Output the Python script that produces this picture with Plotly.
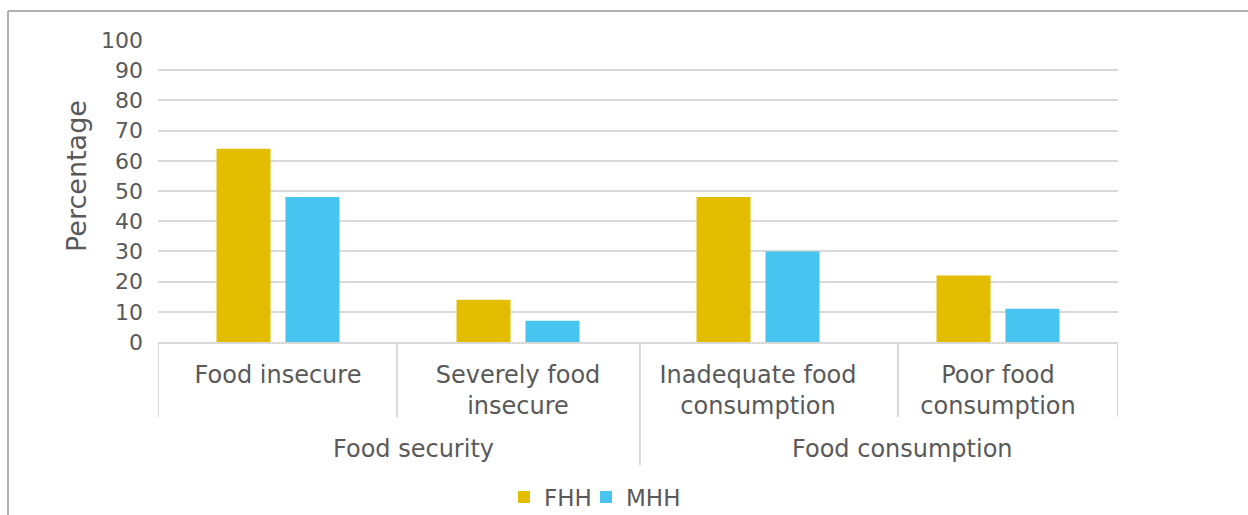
import plotly.graph_objects as go

categories = ["Food insecure", "Severely food<br>insecure", "Inadequate food<br>consumption", "Poor food<br>consumption"]
groups = ["Food security", "Food consumption"]
fhh = [64, 14, 48, 22]
mhh = [48, 7, 30, 11]
series_names = ["FHH", "MHH"]
colors = ["#E3BE00", "#47C4EF"]

FONT = "DejaVu Sans"
GREY = "#595959"
LINE = "#D9D9D9"

W, H = 1248, 515
L, R, T, B = 158, 130, 40, 173
PH = H - T - B

def py(pix):
    """pixel y (from top) -> paper y"""
    return (H - B - pix) / PH

def px(pix):
    return (pix - L) / (W - L - R)

legend_ids = ["legend", "legend2"]
legend_left = [504, 586]

fig = go.Figure()
for name, vals, col, lg in zip(series_names, [fhh, mhh], colors, legend_ids):
    fig.add_trace(go.Bar(x=categories, y=vals, name=name, legend=lg,
                         marker=dict(color=col, line=dict(width=0))))

legend_style = dict(orientation="h", xref="container", xanchor="left",
                    yref="container", y=1 - 497 / H, yanchor="middle",
                    font=dict(size=23, color=GREY), itemwidth=30,
                    bgcolor="rgba(0,0,0,0)")

fig.update_layout(
    width=W, height=H,
    margin=dict(l=L, r=R, t=T, b=B, autoexpand=False),
    paper_bgcolor="white", plot_bgcolor="white",
    barmode="group", bargap=0.425, bargroupgap=0.217,
    font=dict(family=FONT, size=22, color=GREY),
    showlegend=True,
    legend=dict(x=legend_left[0] / W, **legend_style),
    legend2=dict(x=legend_left[1] / W, **legend_style),
)
fig.update_yaxes(range=[0, 100], dtick=10, showgrid=True, gridcolor=LINE,
                 gridwidth=2, zeroline=False, showline=False, automargin=False,
                 tickfont=dict(size=22, color=GREY), ticks="", ticklabelstandoff=14)
fig.update_xaxes(showline=True, linecolor=LINE, linewidth=2, automargin=False,
                 range=[-0.5, 3.5],
                 tickfont=dict(size=24, color=GREY), ticks="", ticklabelstandoff=10)

# y-axis title
fig.add_annotation(text="Percentage", xref="paper", yref="paper",
                   x=px(76), y=py(176), textangle=-90, showarrow=False,
                   font=dict(size=27, color=GREY), xanchor="center", yanchor="middle")

# category dividers (inner level short, group boundary long)
divider_x = [-0.5, 0.496, 1.508, 2.583, 3.5]
for i, xv in enumerate(divider_x):
    y_end = py(465) if i == 2 else py(417)
    fig.add_shape(type="line", xref="x", yref="paper", x0=xv, x1=xv, y0=0, y1=y_end,
                  line=dict(color=LINE, width=2))

# group labels
group_label_x = [0.5625, 2.604]
for g, gx in zip(groups, group_label_x):
    fig.add_annotation(text=g, xref="x", yref="paper", x=gx, y=py(449),
                       showarrow=False, font=dict(size=24, color=GREY),
                       xanchor="center", yanchor="middle")

# chart frame
fig.add_shape(type="line", xref="paper", yref="paper", x0=px(8), x1=px(1260), y0=py(11), y1=py(11),
              line=dict(color="#B0B0B0", width=2))
fig.add_shape(type="line", xref="paper", yref="paper", x0=px(8), x1=px(8), y0=py(11), y1=py(530),
              line=dict(color="#B0B0B0", width=2))

fig.write_html("out.html")
